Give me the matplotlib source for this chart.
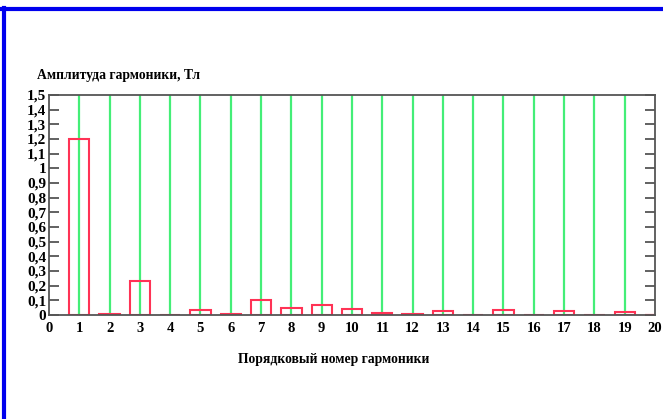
import numpy as np
import matplotlib
matplotlib.use('Agg')
import matplotlib.pyplot as plt
from matplotlib.lines import Line2D

# harmonic number and amplitude (T)
harmonics = list(range(1, 21))
amplitudes = [1.20, 0.005, 0.23, 0.0, 0.033, 0.005, 0.10, 0.048, 0.07, 0.04,
              0.012, 0.005, 0.026, 0.0, 0.032, 0.0, 0.026, 0.0, 0.018, 0.0]
grid_x = list(range(1, 20))
y_ticks = [i / 10 for i in range(16)]
y_labels = ['0' if v == 0 else ('1' if v == 1 else ('%.1f' % v).replace('.', ','))
            for v in y_ticks]
x_ticks = list(range(0, 21))

plt.rcParams['font.family'] = ['Liberation Serif', 'DejaVu Serif']
plt.rcParams['font.weight'] = 'bold'

fig = plt.figure(figsize=(6.63, 4.19), dpi=100)
ax = fig.add_axes([0.0739, 0.2482, 0.9140, 0.5251])

# green vertical grid lines
for gx in grid_x:
    ax.axvline(gx, color='#44ee77', linewidth=1.6, zorder=1)

# hollow red bars
ax.bar(harmonics, amplitudes, width=0.67, facecolor='none',
       edgecolor='#ff3355', linewidth=1.5, zorder=2)

ax.set_xlim(0, 20)
ax.set_ylim(0, 1.5)
ax.set_xticks(x_ticks)
ax.set_xticklabels([str(x) for x in x_ticks], fontsize=10.5, fontweight='bold')
ax.set_yticks(y_ticks)
ax.set_yticklabels(y_labels, fontsize=11, fontweight='bold')
ax.tick_params(axis='y', direction='in', right=True, length=7, width=1.3,
               color='#555555', pad=2)
ax.tick_params(axis='x', length=0, pad=5)
for s in ax.spines.values():
    s.set_color('#555555')
    s.set_linewidth(1.3)

fig.text(0.056, 0.820, 'Амплитуда гармоники, Тл', fontsize=9.8,
         fontweight='bold', ha='left', va='center')
fig.text(0.503, 0.141, 'Порядковый номер гармоники', fontsize=9.8,
         fontweight='bold', ha='center', va='center')

# blue frame on top and left
fig.add_artist(Line2D([0.003, 1.0], [0.979, 0.979], color='#0000ee',
                      linewidth=3, transform=fig.transFigure))
fig.add_artist(Line2D([0.006, 0.006], [0.0, 0.982], color='#0000ee',
                      linewidth=3, transform=fig.transFigure))

fig.savefig('out.png', dpi=100)
